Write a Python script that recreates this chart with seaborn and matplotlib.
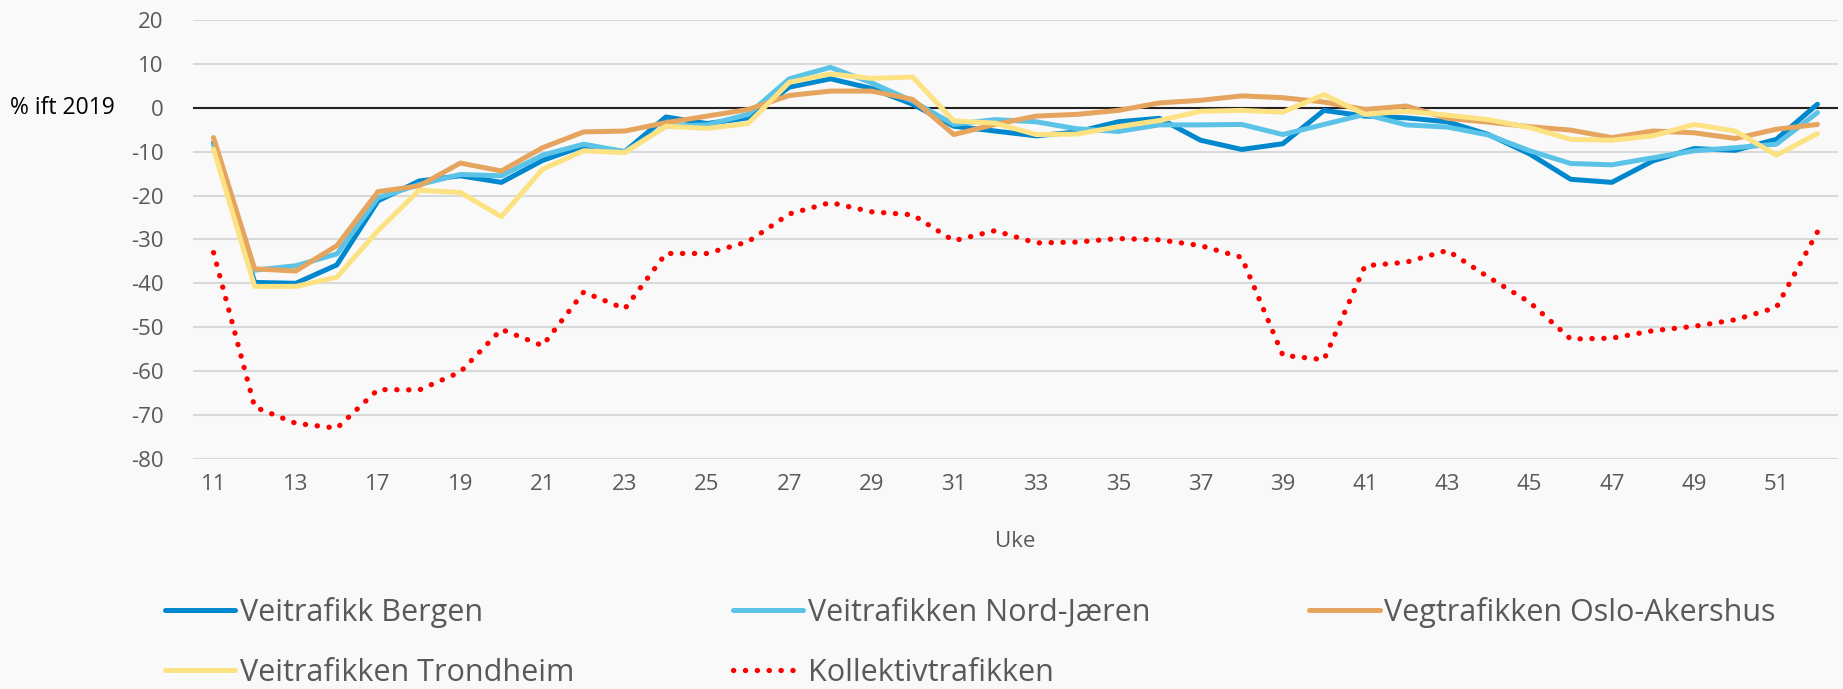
import matplotlib
matplotlib.use("Agg")

import matplotlib.pyplot as plt
import pandas as pd
import seaborn as sns

# Weeks on the category axis (every second one gets a label)
weeks = [11, 12, 13, 14] + list(range(17, 53))

bergen = [-8, -39.8, -40, -35.8, -21.2, -16.7, -15.5, -17, -12, -8.7,
          -10, -2.1, -3.6, -2.3, 4.7, 6.6, 4.4, 0.8, -4.2, -5.3,
          -6.4, -5.5, -3.2, -2.4, -7.4, -9.5, -8.2, -0.6, -1.9, -2.3,
          -3.2, -6.1, -10.5, -16.3, -17, -12.1, -9.3, -9.7, -7.2, 0.8]
nord_jaeren = [-8.5, -37, -36, -33.3, -20.5, -17.5, -15.2, -15.5, -10.8, -8.3,
               -10, -4.2, -3.9, -1.5, 6.6, 9.2, 5.7, 1.5, -3.8, -2.7,
               -3.2, -4.8, -5.4, -3.9, -3.9, -3.8, -6.1, -3.8, -1.5, -3.9,
               -4.4, -6.2, -9.8, -12.7, -13, -11.4, -9.8, -9.1, -8.3, -1.1]
oslo = [-6.8, -36.7, -37.2, -31.4, -19.1, -17.8, -12.6, -14.4, -9.1, -5.5,
        -5.3, -3.4, -1.9, -0.4, 2.8, 3.8, 3.8, 1.9, -6.1, -3.8,
        -1.9, -1.5, -0.6, 1.1, 1.7, 2.7, 2.3, 1.3, -0.4, 0.4,
        -2.4, -3.3, -4.3, -5.1, -6.8, -5.3, -5.7, -7.0, -4.9, -3.8]
trondheim = [-9.4, -40.7, -40.7, -38.6, -28, -18.8, -19.3, -24.8, -14, -9.8,
             -10.2, -4.2, -4.7, -3.6, 5.8, 7.7, 6.7, 7.0, -3.0, -3.5,
             -6.1, -6.0, -4.3, -2.9, -0.8, -0.6, -1.0, 3.0, -1.5, -0.8,
             -1.7, -2.7, -4.5, -7.2, -7.4, -6.4, -3.8, -5.3, -10.8, -5.9]
kollektiv = [-33, -68.2, -71.9, -73, -64.2, -64.3, -60.2, -50.5, -54.2, -42,
             -45.8, -33.2, -33.2, -30.5, -24.2, -21.6, -23.7, -24.4, -30.3, -28,
             -30.8, -30.6, -29.8, -30.1, -31.4, -34.1, -56.4, -57.4, -36, -35.2,
             -32.5, -38.6, -44.3, -52.7, -52.5, -50.8, -49.8, -48.3, -45.5, -28.3]

series = {
    "Veitrafikk Bergen": bergen,
    "Veitrafikken Nord-Jæren": nord_jaeren,
    "Vegtrafikken Oslo-Akershus": oslo,
    "Veitrafikken Trondheim": trondheim,
    "Kollektivtrafikken": kollektiv,
}
colors = {
    "Veitrafikk Bergen": "#0088CE",
    "Veitrafikken Nord-Jæren": "#5BC3E8",
    "Vegtrafikken Oslo-Akershus": "#E5A55E",
    "Veitrafikken Trondheim": "#FDE283",
    "Kollektivtrafikken": "#FF0000",
}

sns.set_style("white")
plt.rcParams["font.family"] = ["Open Sans", "DejaVu Sans"]
plt.rcParams["axes.unicode_minus"] = False

bg = "#F9F9F9"
grey = "#595959"

fig = plt.figure(figsize=(18.43, 6.89), dpi=100, facecolor=bg)
ax = fig.add_axes([0.1047, 0.334, 0.8926, 0.637])
ax.set_facecolor(bg)

handles = {}
for name, vals in series.items():
    df = pd.DataFrame({"pos": range(len(weeks)), "val": vals})
    if name == "Kollektivtrafikken":
        sns.lineplot(data=df, x="pos", y="val", ax=ax, color=colors[name],
                     lw=3.8, ls=(0, (0.05, 2.2)), dash_capstyle="round", label=name)
    else:
        sns.lineplot(data=df, x="pos", y="val", ax=ax, color=colors[name],
                     lw=3.6, solid_capstyle="round", label=name)
    handles[name] = ax.get_lines()[-1]

ax.set_xlim(-0.5, len(weeks) - 0.5)
ax.set_ylim(-80, 20)
ax.set_yticks(range(-80, 21, 10))
ax.set_xticks(range(0, len(weeks), 2))
ax.set_xticklabels([str(w) for w in weeks[::2]])
ax.grid(axis="y", color="#D9D9D9", lw=1.5)
ax.axhline(0, color="#222222", lw=1.5, zorder=1.5)
ax.set_axisbelow(True)
sns.despine(ax=ax, left=True, bottom=True)
ax.tick_params(length=0, labelsize=16, labelcolor=grey)
ax.tick_params(axis="x", pad=11)
ax.tick_params(axis="y", pad=21)

ax.set_xlabel("Uke", fontsize=16, color=grey, labelpad=26)
ax.set_ylabel("% ift 2019", fontsize=16.5, color="black", rotation=0,
              ha="left", va="center")
ax.yaxis.set_label_coords(-0.111, 0.8)

order = ["Veitrafikk Bergen", "Veitrafikken Trondheim",
         "Veitrafikken Nord-Jæren", "Kollektivtrafikken",
         "Vegtrafikken Oslo-Akershus"]
ax.legend([handles[n] for n in order], order, ncol=3, frameon=False,
          loc="upper left", bbox_to_anchor=(165 / 1843, 1 - 597 / 689),
          bbox_transform=fig.transFigure, fontsize=22, labelcolor=grey,
          handlelength=2.3, handletextpad=0.15, columnspacing=5.2,
          labelspacing=0.98, borderaxespad=0, borderpad=0)

fig.savefig("out.png", dpi=100, facecolor=bg)
